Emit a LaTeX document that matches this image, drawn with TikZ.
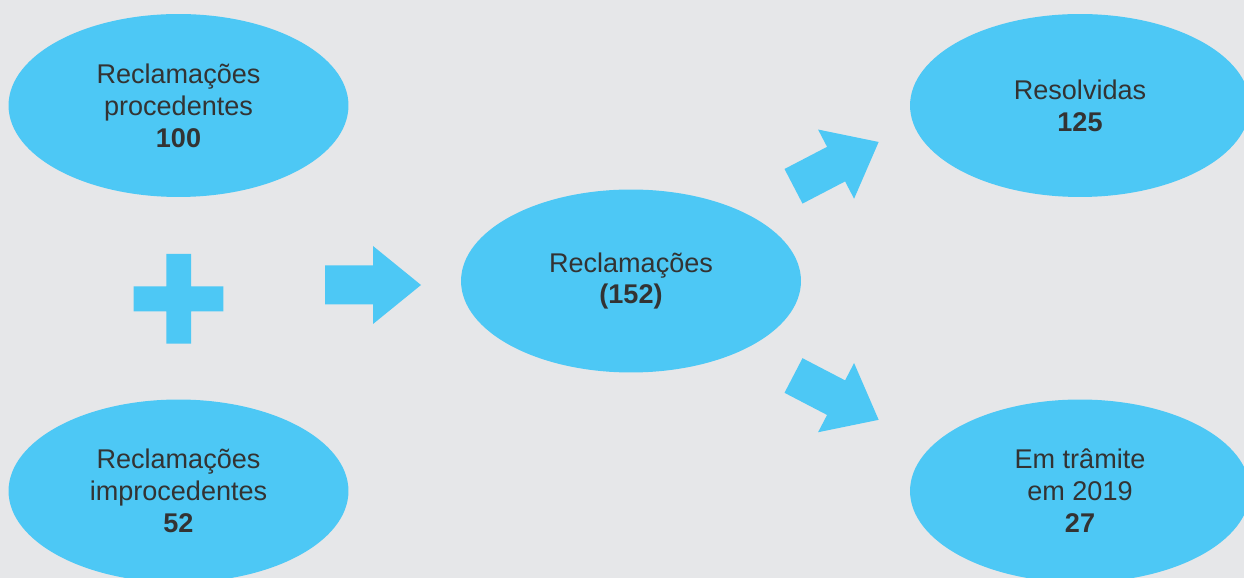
\documentclass[tikz,border=0pt]{standalone}
\usepackage{fontspec}
\setmainfont{Liberation Sans}
\usepackage{xcolor}
\usetikzlibrary{shapes.geometric,positioning}
\definecolor{bggray}{HTML}{E6E7E9}
\definecolor{skyfill}{HTML}{4DC8F5}
\definecolor{textgray}{HTML}{333333}
\tikzset{
  bubble/.style={ellipse,fill=skyfill,inner sep=0pt,minimum width=6.8cm,minimum height=3.66cm,
    align=center,text=textgray,font=\fontsize{15.4}{18.2}\selectfont},
  blockarrow/.style={fill=skyfill}
}
\newcommand{\bigarrow}{(0,-19.5)--(48,-19.5)--(48,-39)--(96,0)--(48,39)--(48,19.5)--(0,19.5)--cycle}

\begin{document}
\begin{tikzpicture}[x=0.02cm,y=0.02cm]
\clip (0,0) rectangle (1244,578);
\fill[bggray] (0,0) rectangle (1244,578);
% left column: the two kinds of complaints
\node[bubble] (procedentes) at (178.5,472.5) {Reclamações\\procedentes\\\textbf{100}};
\node[bubble] (improcedentes) at (178.5,87) {Reclamações\\improcedentes\\\textbf{52}};
% plus sign between them
\fill[skyfill] (166.3,234.3) rectangle (191,324) (133.7,266.7) rectangle (223.3,291.7);
% total
\node[bubble] (total) at (631,297) {Reclamações\\\textbf{(152)}};
\begin{scope}[shift={(325,293)}]
  \fill[blockarrow] \bigarrow;
\end{scope}
% right column: outcome
\node[bubble] (resolvidas) at (1080,472.5) {Resolvidas\\\textbf{125}};
\node[bubble] (tramite) at (1080,87) {Em trâmite\\em 2019\\\textbf{27}};
\begin{scope}[shift={(793.5,391.7)},rotate=27.5]
  \fill[blockarrow] \bigarrow;
\end{scope}
\begin{scope}[shift={(793.5,202.5)},rotate=-27.5]
  \fill[blockarrow] \bigarrow;
\end{scope}
\end{tikzpicture}
\end{document}
